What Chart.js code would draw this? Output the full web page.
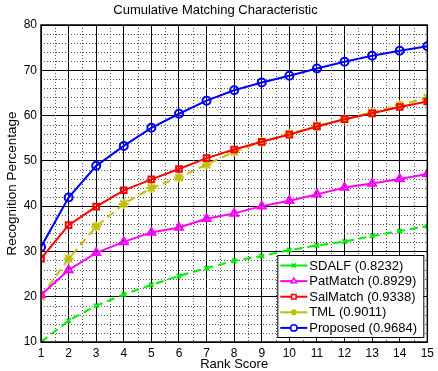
<!DOCTYPE html>
<html>
<head>
<meta charset="utf-8">
<script src="https://cdn.jsdelivr.net/npm/chart.js@4.4.1/dist/chart.umd.min.js"></script>
<style>
html,body{margin:0;padding:0;background:#fff;}
#wrap{width:438px;height:371px;position:relative;}
</style>
</head>
<body>
<div id="wrap"><canvas id="c" width="438" height="371"></canvas></div>
<script>
const ranks = [1,2,3,4,5,6,7,8,9,10,11,12,13,14,15];
const sdalf    = [10.0,14.7,18.0,20.5,22.6,24.6,26.3,27.9,29.0,30.3,31.3,32.2,33.4,34.5,35.6];
const patMatch = [20.4,25.9,29.7,32.1,34.2,35.3,37.2,38.4,40.0,41.2,42.6,44.1,45.0,46.0,47.1];
const salMatch = [28.4,35.8,39.9,43.5,45.9,48.2,50.6,52.5,54.2,55.8,57.6,59.2,60.5,61.9,63.1];
const tml      = [20.0,28.4,35.5,40.5,44.0,46.3,49.2,52.0,54.2,56.0,57.7,59.2,60.7,62.3,63.9];
const proposed = [31.0,41.9,48.9,53.3,57.3,60.4,63.3,65.6,67.3,68.8,70.4,71.9,73.2,74.3,75.3];
const seriesLabels = ['SDALF (0.8232)','PatMatch (0.8929)','SalMatch (0.9338)','TML (0.9011)','Proposed (0.9684)'];
const xTicks = ranks;
const yTicks = [10,20,30,40,50,60,70,80];

const toXY = arr => arr.map((v,i)=>({x:ranks[i], y:v}));
const FONT = '"Liberation Sans", Arial, Helvetica, sans-serif';

const styles = [
  {color:'#00ee00', style:'crossRot', radius:3, dash:[8,5]},
  {color:'#ff00ff', style:'triangle', radius:4.5, dash:[]},
  {color:'#ff0000', style:'rect', radius:4, dash:[]},
  {color:'#bfbf00', style:'star', radius:5, dash:[8,5]},
  {color:'#0000ff', style:'circle', radius:4, dash:[]}
];
const seriesData = [sdalf, patMatch, salMatch, tml, proposed];

const datasets = seriesData.map((d,i)=>({
  label: seriesLabels[i],
  data: toXY(d),
  borderColor: styles[i].color,
  backgroundColor: 'rgba(0,0,0,0)',
  borderWidth: 2,
  borderDash: styles[i].dash,
  pointStyle: styles[i].style,
  pointRadius: styles[i].radius,
  pointBorderWidth: 2,
  pointBorderColor: styles[i].color,
  pointBackgroundColor: 'rgba(0,0,0,0)',
  tension: 0,
  fill: false
}));

const minorGrid = {
  id:'minorGrid',
  beforeDatasetsDraw(chart){
    const {ctx, chartArea:a, scales:{x,y}} = chart;
    ctx.save();
    ctx.strokeStyle = '#555';
    ctx.lineWidth = 1;
    ctx.setLineDash([1,2]);
    for(let v=1.5; v<15; v+=1){
      const px = Math.round(x.getPixelForValue(v))+0.5;
      ctx.beginPath(); ctx.moveTo(px,a.top); ctx.lineTo(px,a.bottom); ctx.stroke();
    }
    for(let v=12; v<80; v+=2){
      if(v%10===0) continue;
      const py = Math.round(y.getPixelForValue(v))+0.5;
      ctx.beginPath(); ctx.moveTo(a.left,py); ctx.lineTo(a.right,py); ctx.stroke();
    }
    ctx.restore();
  },
  afterDraw(chart){
    const {ctx, chartArea:a} = chart;
    ctx.save();
    ctx.strokeStyle = '#000';
    ctx.lineWidth = 1.5;
    ctx.strokeRect(a.left, a.top, a.right-a.left, a.bottom-a.top);
    // legend
    const w = 146, h = 82;
    const lx = a.right - 4 - w, ly = a.bottom - 5 - h;
    ctx.fillStyle = '#fff';
    ctx.fillRect(lx, ly, w, h);
    ctx.lineWidth = 1;
    ctx.strokeRect(lx+0.5, ly+0.5, w, h);
    ctx.font = '13px ' + FONT;
    ctx.textBaseline = 'middle';
    ctx.textAlign = 'left';
    chart.data.datasets.forEach((ds,i)=>{
      const ry = ly + 10.5 + i*15.6;
      ctx.strokeStyle = ds.borderColor;
      ctx.lineWidth = 2;
      ctx.setLineDash([]);
      ctx.beginPath(); ctx.moveTo(lx+3, ry); ctx.lineTo(lx+30, ry); ctx.stroke();
      ctx.lineWidth = 1.5;
      ctx.fillStyle = '#fff';
      Chart.helpers.drawPoint(ctx, {pointStyle: ds.pointStyle, radius: Math.min(3.2, ds.pointRadius), rotation:0, borderWidth:1.5}, lx+16.5, ry);
      ctx.fillStyle = '#000';
      ctx.fillText(ds.label, lx+32, ry+0.5);
    });
    ctx.restore();
  }
};

new Chart(document.getElementById('c'), {
  type:'line',
  data:{datasets},
  options:{
    responsive:false,
    animation:false,
    devicePixelRatio:1,
    layout:{padding:{top:0,right:7,left:0,bottom:0}},
    plugins:{
      legend:{display:false},
      tooltip:{enabled:false},
      title:{display:true, text:'Cumulative Matching Characteristic', color:'#000',
        font:{family:FONT, size:13, weight:'normal', lineHeight:1.2}, padding:{top:2.5,bottom:6.9}}
    },
    scales:{
      x:{type:'linear', min:1, max:15,
        afterBuildTicks(s){ s.ticks = xTicks.map(v=>({value:v})); },
        afterFit(s){ s.height = 29; },
        grid:{color:'#000', lineWidth:1, drawTicks:false},
        border:{display:false},
        ticks:{color:'#000', padding:4, font:{family:FONT,size:12}, maxRotation:0, autoSkip:false},
        title:{display:true, text:'Rank Score', color:'#000', font:{family:FONT,size:13,lineHeight:1}, padding:{top:0,bottom:0}}
      },
      y:{type:'linear', min:10, max:80,
        afterBuildTicks(s){ s.ticks = yTicks.map(v=>({value:v})); },
        afterFit(s){ s.width = 41; },
        grid:{color:'#000', lineWidth:1, drawTicks:false},
        border:{display:false},
        ticks:{color:'#000', padding:4, font:{family:FONT,size:12}},
        title:{display:true, text:'Recognition Percentage', color:'#000', font:{family:FONT,size:13.5,lineHeight:1.2}, padding:{top:4,bottom:0}}
      }
    }
  },
  plugins:[minorGrid]
});
</script>
</body>
</html>
